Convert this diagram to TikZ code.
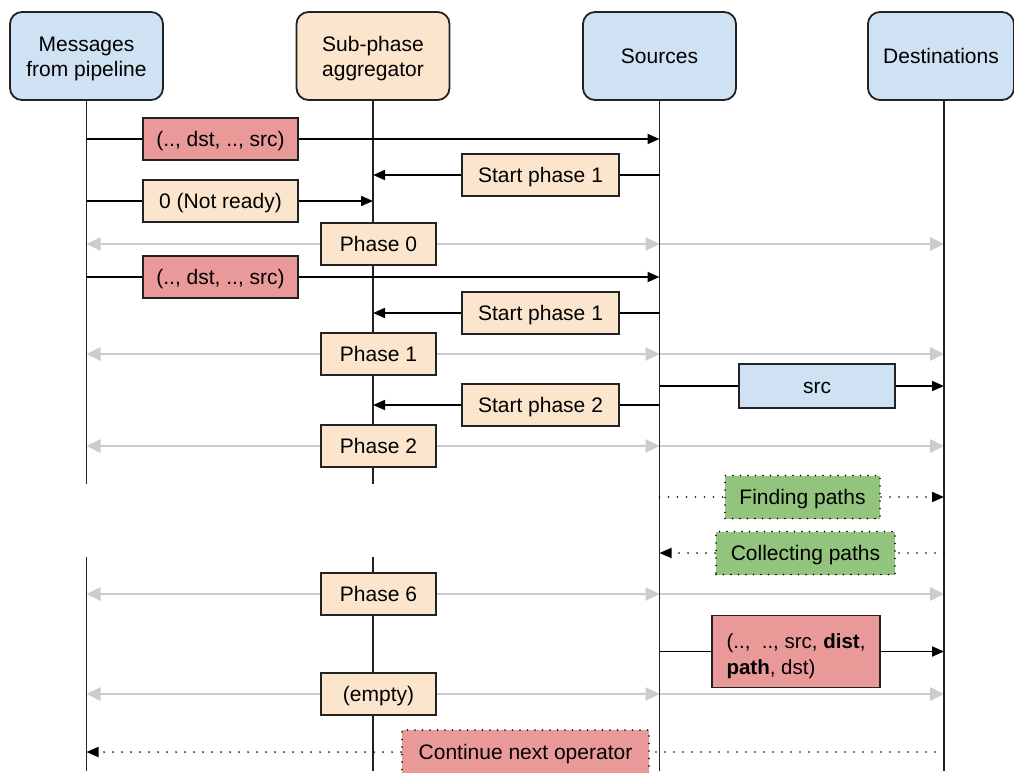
\documentclass[tikz,border=0pt]{standalone}
\usepackage{fontspec}
\setmainfont{Liberation Sans}
\usetikzlibrary{arrows.meta,backgrounds}
\definecolor{hdrblue}{HTML}{CFE2F3}
\definecolor{peach}{HTML}{FCE5CD}
\definecolor{rose}{HTML}{EA9999}
\definecolor{leaf}{HTML}{93C47D}
\definecolor{edge}{HTML}{222222}
\definecolor{faint}{HTML}{CCCCCC}
% set a line of text a little lower without changing its box
\newcommand\lowered[2][3pt]{\raisebox{-#1}[\height][\depth]{#2}}
\begin{document}
\begin{tikzpicture}[x=1pt,y=-1pt,
  every node/.style={font=\fontsize{21}{25}\selectfont, text=black},
  header/.style={draw=edge, line width=1.8pt, rounded corners=12pt,
    minimum width=153pt, minimum height=88pt, align=center, inner sep=0pt},
  msgbox/.style={draw=edge, line width=1.8pt, minimum height=42pt, inner sep=0pt,
    text height=17pt, text depth=2pt},
  dotbox/.style={draw=black, line width=1.8pt, dash pattern=on 0pt off 7.5pt,
    line cap=round, minimum height=43pt, inner sep=0pt,
    text height=17pt, text depth=2pt},
  lifeline/.style={draw=edge, line width=1.8pt},
  plain/.style={draw=black, line width=1.8pt},
  call/.style={plain, -{Triangle[length=12pt,width=10pt]}},
  sync/.style={draw=faint, line width=2.6pt, -{Triangle[length=14pt,width=13pt]}},
  dots/.style={draw=black, line width=1.8pt, dash pattern=on 0pt off 9pt, line cap=round},
  dotcall/.style={dots, -{Triangle[length=12pt,width=10pt]}},
]
\useasboundingbox (0,0) rectangle (1014,772);

% participants
\node[header, fill=hdrblue] (msg) at (86.5,56) {\lowered{Messages}\\\lowered{from pipeline}};
\node[header, fill=peach]   (agg) at (373,56)  {\lowered{Sub-phase}\\\lowered{aggregator}};
\node[header, fill=hdrblue] (src) at (659.5,56) {Sources};
\node[header, fill=hdrblue, minimum width=146pt] (dst) at (941,56) {Destinations};

% reference heights for the lifeline breaks and ends
\coordinate (gapA) at (0,484);
\coordinate (gapB) at (0,557);
\coordinate (bottom) at (0,771);

% messages
\node[msgbox, fill=rose,  minimum width=155pt] (m1) at (220.5,139) {(.., dst, .., src)};
\node[msgbox, fill=peach, minimum width=157pt] (m2) at (540.5,175) {Start phase 1};
\node[msgbox, fill=peach, minimum width=155pt] (m3) at (220.5,201) {0 (Not ready)};
\node[msgbox, fill=peach, minimum width=115pt] (p0) at (378.5,244) {Phase 0};
\node[msgbox, fill=rose,  minimum width=155pt] (m5) at (220.5,277) {(.., dst, .., src)};
\node[msgbox, fill=peach, minimum width=157pt] (m6) at (540.5,313) {Start phase 1};
\node[msgbox, fill=peach, minimum width=115pt] (p1) at (378.5,354) {Phase 1};
\node[msgbox, fill=hdrblue, minimum width=156pt, minimum height=44pt] (s8) at (817,386) {src};
\node[msgbox, fill=peach, minimum width=157pt] (m9) at (540.5,405) {Start phase 2};
\node[msgbox, fill=peach, minimum width=115pt] (p2) at (378.5,446) {Phase 2};
\node[dotbox, fill=leaf, minimum width=155pt] (f11) at (802.5,497) {Finding paths};
\node[dotbox, fill=leaf, minimum width=179pt] (c12) at (805.5,553) {Collecting paths};
\node[msgbox, fill=peach, minimum width=115pt] (p6) at (378.5,594) {Phase 6};
\node[draw=edge, line width=1.8pt, inner sep=0pt, fill=rose, minimum width=168pt,
      minimum height=72pt, align=left, font=\fontsize{20.5}{26}\selectfont] (t14) at (796,651.5)
      {\lowered[4.5pt]{(..,\ \ .., src, \textbf{dist},}\\\lowered[4.5pt]{\textbf{path}, dst)}};
\node[msgbox, fill=peach, minimum width=115pt] (p15) at (378.5,694) {(empty)};
\node[dotbox, fill=rose, minimum width=247pt, minimum height=44pt] (n16) at (525.5,752) {Continue next operator};

\begin{scope}[on background layer]
  % phase broadcasts
  \foreach \p in {p0,p1,p2,p6,p15} {
    \draw[sync] (\p) -- (msg |- \p);
    \draw[sync] (\p) -- (src |- \p);
    \draw[sync] (src |- \p) -- ([xshift=3pt]dst |- \p);
  }
  % lifelines
  \draw[lifeline] (msg.south) -- (msg |- gapA);
  \draw[lifeline] (msg |- gapB) -- (msg |- bottom);
  \draw[lifeline] (agg.south) -- (agg |- gapA);
  \draw[lifeline] (agg |- gapB) -- (agg |- bottom);
  \draw[lifeline] (src.south) -- (src |- bottom);
  \draw[lifeline] ([xshift=3pt]dst.south) -- ([xshift=3pt]dst |- bottom);
  % calls
  \draw[plain] (msg |- m1) -- (m1);  \draw[call] (m1) -- (src |- m1);
  \draw[plain] (src |- m2) -- (m2);  \draw[call] (m2) -- (agg |- m2);
  \draw[plain] (msg |- m3) -- (m3);  \draw[call] (m3) -- (agg |- m3);
  \draw[plain] (msg |- m5) -- (m5);  \draw[call] (m5) -- (src |- m5);
  \draw[plain] (src |- m6) -- (m6);  \draw[call] (m6) -- (agg |- m6);
  \draw[plain] (src |- s8) -- (s8);  \draw[call] (s8) -- ([xshift=3pt]dst |- s8);
  \draw[plain] (src |- m9) -- (m9);  \draw[call] (m9) -- (agg |- m9);
  \draw[dots] (src |- f11) -- (f11); \draw[dotcall] (f11) -- ([xshift=3pt]dst |- f11);
  \draw[dots] ([xshift=3pt]dst |- c12) -- (c12); \draw[dotcall] (c12) -- (src |- c12);
  \draw[plain] (src |- t14) -- (t14); \draw[call] (t14) -- ([xshift=3pt]dst |- t14);
  \draw[dots] ([xshift=3pt]dst |- n16) -- (n16); \draw[dotcall] (n16) -- (msg |- n16);
\end{scope}
\end{tikzpicture}
\end{document}
